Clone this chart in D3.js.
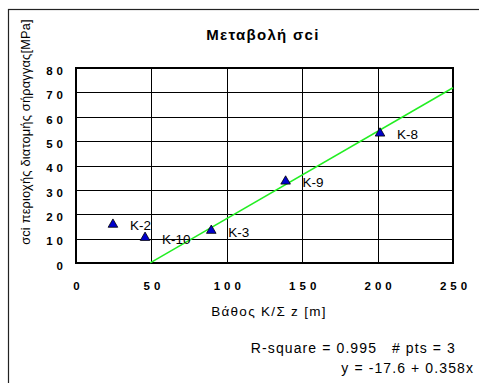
<!DOCTYPE html>
<html>
<head>
<meta charset="utf-8">
<script src="https://cdn.jsdelivr.net/npm/d3@7"></script>
<style>
  body { margin: 0; background: #fff; }
  svg { display: block; font-family: "Liberation Sans", Arial, sans-serif; }
</style>
</head>
<body>
<div id="chart"></div>
<script>
var names = ["K-2", "K-10", "K-3", "K-9", "K-8"];
var depths = [24.5, 45.8, 89.7, 139, 201.6];
var strengths = [15.6, 10.2, 13.1, 33.3, 53];
var xTicks = [0, 50, 100, 150, 200, 250];
var yTicks = [0, 10, 20, 30, 40, 50, 60, 70, 80];
var fitA = -17.6, fitB = 0.358; // y = a + b x
var fitRange = [49.2, 250];

var width = 479, height = 383;
var plot = { left: 76, right: 453, top: 68, bottom: 263 };

var svg = d3.select("#chart").append("svg")
    .attr("width", width)
    .attr("height", height);

// outer frame
svg.append("rect")
    .attr("x", 8.5).attr("y", 9.5)
    .attr("width", 500).attr("height", 400)
    .attr("fill", "none").attr("stroke", "#222").attr("stroke-width", 1.2);

var x = d3.scaleLinear().domain([0, 250]).range([plot.left, plot.right]);
var y = d3.scaleLinear().domain([0, 80]).range([plot.bottom, plot.top]);

// gridlines
var grid = svg.append("g").attr("shape-rendering", "crispEdges");
grid.selectAll("line.h").data(yTicks).enter().append("line")
    .attr("x1", x(0)).attr("x2", x(250))
    .attr("y1", function (d) { return Math.round(y(d)) + 0.5; })
    .attr("y2", function (d) { return Math.round(y(d)) + 0.5; })
    .attr("stroke", "#000").attr("stroke-width", 1);
grid.selectAll("line.v").data(xTicks).enter().append("line")
    .attr("y1", y(0)).attr("y2", y(80))
    .attr("x1", function (d) { return Math.round(x(d)) + 0.5; })
    .attr("x2", function (d) { return Math.round(x(d)) + 0.5; })
    .attr("stroke", "#000").attr("stroke-width", 1);
svg.append("rect")
    .attr("x", x(0)).attr("y", y(80))
    .attr("width", x(250) - x(0)).attr("height", y(0) - y(80))
    .attr("shape-rendering", "crispEdges")
    .attr("fill", "none").attr("stroke", "#000").attr("stroke-width", 2);

// axes
var tickSpacing = 4;
var axisX = svg.append("g")
    .attr("transform", "translate(0," + (y(0) + 26.5) + ")")
    .call(d3.axisBottom(x).tickValues(xTicks).tickSize(0).tickPadding(0));
axisX.select(".domain").remove();
axisX.selectAll("text")
    .attr("y", 0).attr("dy", 0)
    .attr("font-size", "11.5px").attr("font-weight", "bold")
    .attr("letter-spacing", tickSpacing + "px")
    .attr("font-family", "Liberation Sans, Arial, sans-serif")
    .attr("dx", (tickSpacing / 2) + "px")
    .attr("fill", "#000");

var axisY = svg.append("g")
    .attr("transform", "translate(" + (63 + tickSpacing) + ",0)")
    .call(d3.axisLeft(y).tickValues(yTicks).tickSize(0).tickPadding(0));
axisY.select(".domain").remove();
axisY.selectAll("text")
    .attr("x", 0).attr("dy", "0.55em")
    .attr("font-size", "11.5px").attr("font-weight", "bold")
    .attr("letter-spacing", tickSpacing + "px")
    .attr("font-family", "Liberation Sans, Arial, sans-serif")
    .attr("fill", "#000");

// regression line
svg.append("line")
    .attr("x1", x(fitRange[0])).attr("y1", y(fitA + fitB * fitRange[0]))
    .attr("x2", x(fitRange[1])).attr("y2", y(fitA + fitB * fitRange[1]))
    .attr("stroke", "#22ee22").attr("stroke-width", 1.5);

// points
var pts = svg.append("g").selectAll("g").data(names).enter().append("g")
    .attr("transform", function (d, i) { return "translate(" + x(depths[i]) + "," + y(strengths[i]) + ")"; });
pts.append("path")
    .attr("d", d3.symbol().type(d3.symbolTriangle).size(40))
    .attr("transform", "translate(0,-0.5)")
    .attr("fill", "#0000cc").attr("stroke", "#000").attr("stroke-width", 0.8);
pts.append("text")
    .attr("x", 17).attr("y", 5.5)
    .attr("font-size", "13.5px")
    .attr("fill", "#000")
    .text(function (d) { return d; });

// titles
svg.append("text")
    .attr("x", 263).attr("y", 40)
    .attr("text-anchor", "middle")
    .attr("font-size", "15px").attr("font-weight", "bold")
    .attr("letter-spacing", "1.3px")
    .text("Μεταβολή σci");

svg.append("text")
    .attr("transform", "translate(30,132) rotate(-90)")
    .attr("text-anchor", "middle")
    .attr("font-size", "12.8px")
    .attr("letter-spacing", "0.2px")
    .text("σci περιοχής διατομής σήραγγας[MPa]");

svg.append("text")
    .attr("x", 269).attr("y", 316)
    .attr("text-anchor", "middle")
    .attr("font-size", "13.5px")
    .attr("letter-spacing", "1.3px")
    .text("Βάθος Κ/Σ z [m]");

svg.append("text")
    .attr("x", 456).attr("y", 353)
    .attr("text-anchor", "end")
    .attr("font-size", "14px")
    .attr("letter-spacing", "1.1px")
    .attr("xml:space", "preserve")
    .text("R-square = 0.995   # pts = 3");

svg.append("text")
    .attr("x", 474).attr("y", 373)
    .attr("text-anchor", "end")
    .attr("font-size", "14px")
    .attr("letter-spacing", "1.1px")
    .text("y = " + fitA + " + " + fitB + "x");
</script>
</body>
</html>
